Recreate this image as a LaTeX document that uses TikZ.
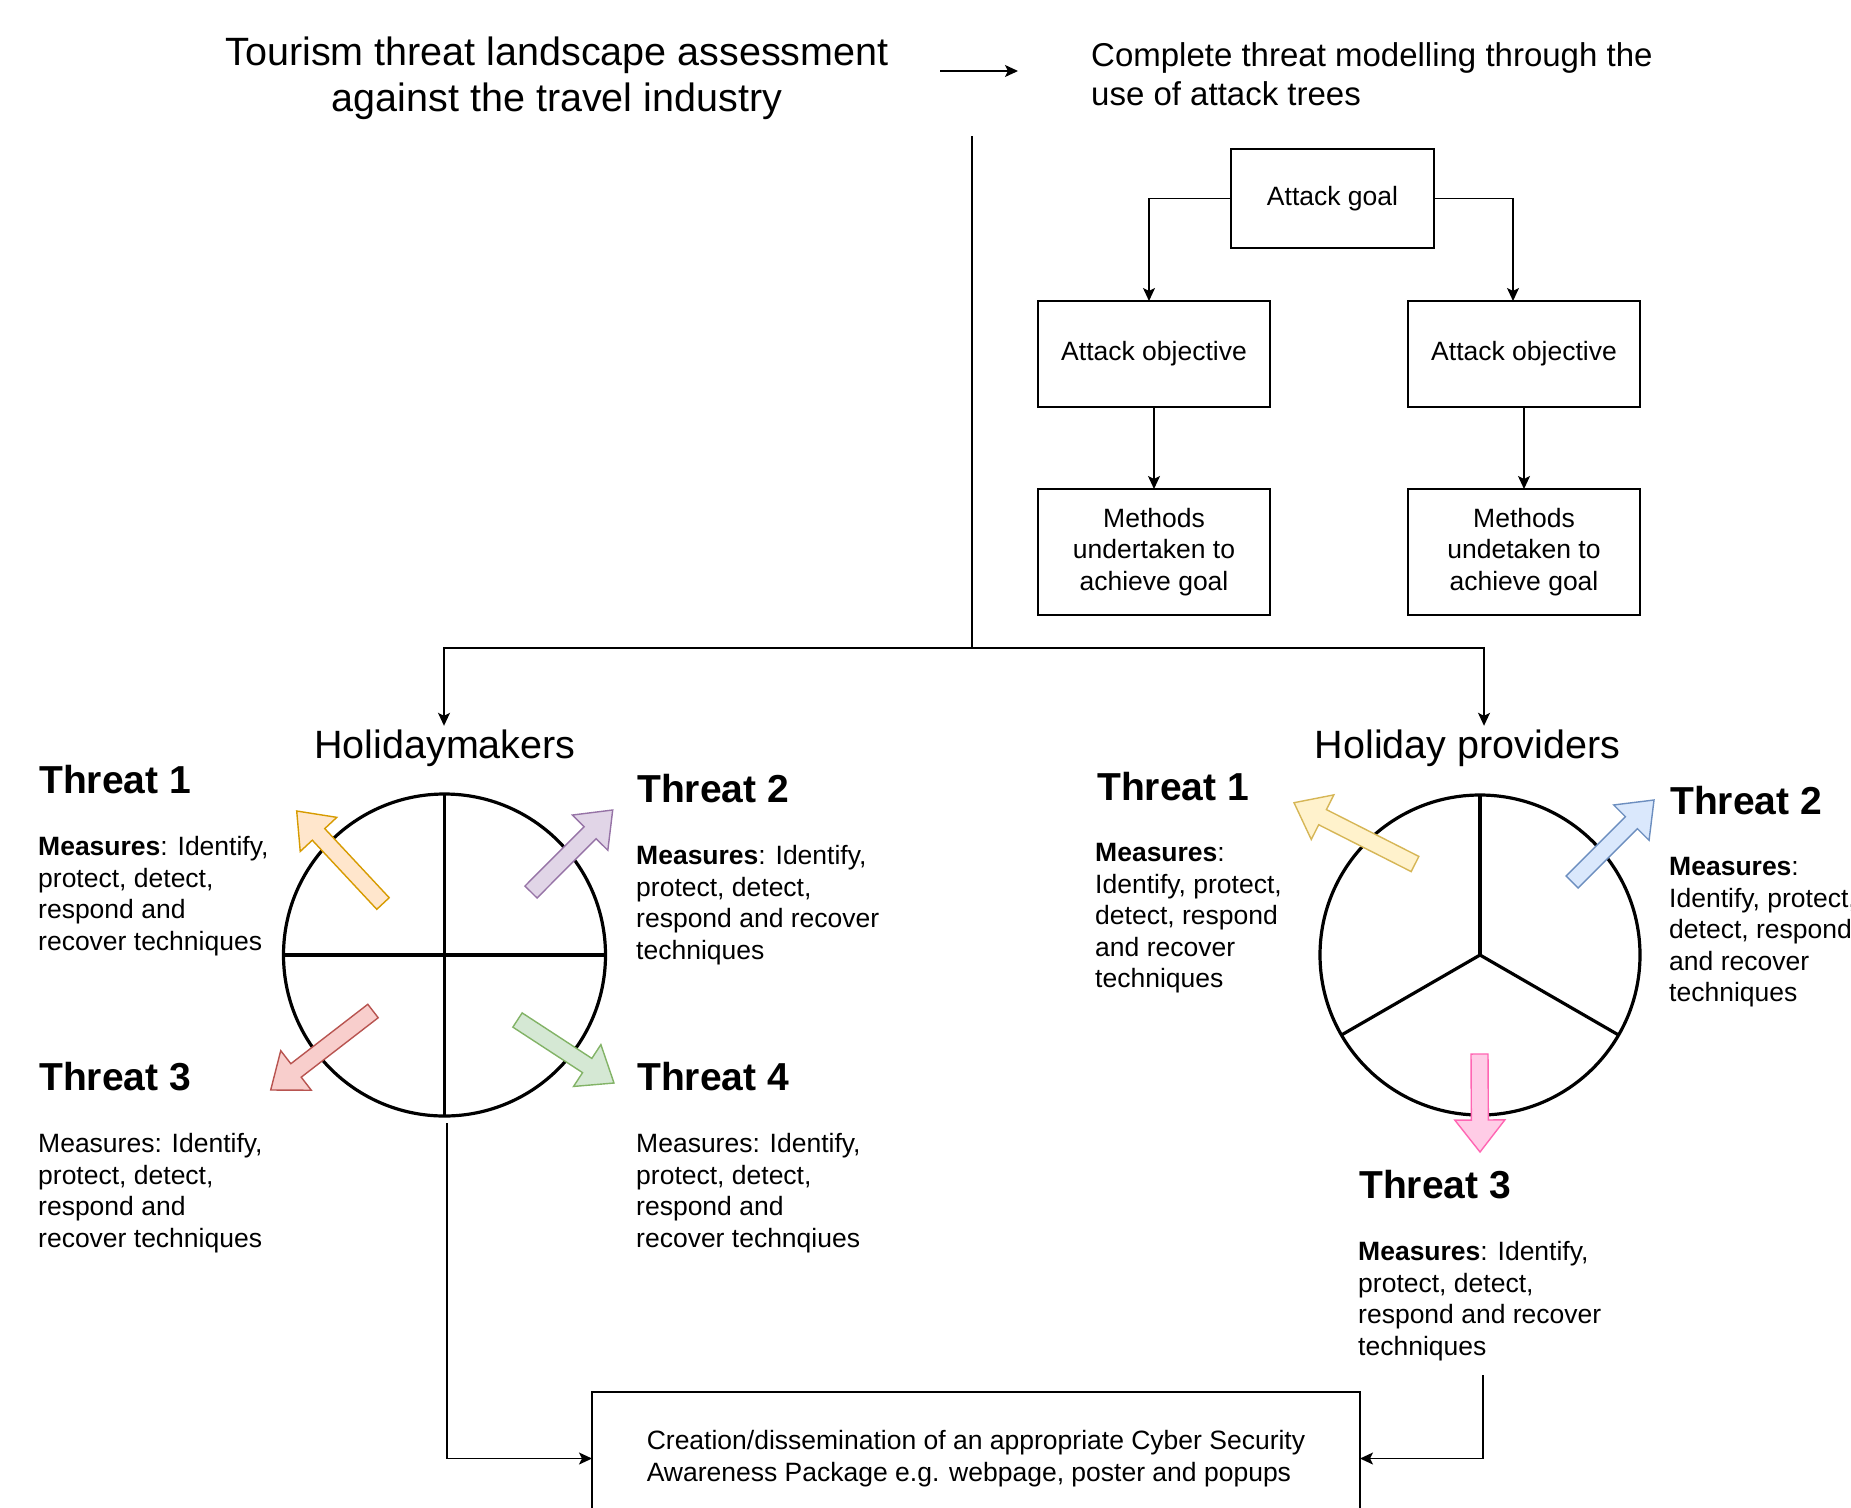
\documentclass[tikz,border=0pt]{standalone}
\usepackage{fontspec}
\setmainfont{Liberation Sans}
\usetikzlibrary{calc,arrows.meta}

\definecolor{orfill}{HTML}{FFE6CC}\definecolor{orline}{HTML}{D79B00}
\definecolor{pufill}{HTML}{E1D5E7}\definecolor{puline}{HTML}{9673A6}
\definecolor{refill}{HTML}{F8CECC}\definecolor{reline}{HTML}{B85450}
\definecolor{grfill}{HTML}{D5E8D4}\definecolor{grline}{HTML}{82B366}
\definecolor{yefill}{HTML}{FFF2CC}\definecolor{yeline}{HTML}{D6B656}
\definecolor{blfill}{HTML}{DAE8FC}\definecolor{blline}{HTML}{6C8EBF}
\definecolor{pifill}{HTML}{FFCCE6}\definecolor{piline}{HTML}{FF66B3}

\newcommand\bodyfont{\fontsize{26.5}{31.6}\selectfont}
\newcommand\titlefont{\fontsize{39.5}{46.5}\selectfont}
\newcommand\subfont{\fontsize{33}{39}\selectfont}
\newcommand\headfont{\fontsize{39}{46}\selectfont\bfseries}

\newcommand\threatarrow[3]{%
  \coordinate (tat) at (#2);
  \coordinate (tap) at (#3);
  \coordinate (tah) at ($(tap)!32pt!(tat)$);
  \draw[#1] ($(tat)!8.5pt!90:(tap)$) -- ($(tah)!8.5pt!-90:(tat)$) -- ($(tah)!25pt!-90:(tat)$) -- (tap) -- ($(tah)!25pt!90:(tat)$) -- ($(tah)!8.5pt!90:(tat)$) -- ($(tat)!8.5pt!-90:(tap)$) -- cycle;
}

\begin{document}
\begin{tikzpicture}[x=1pt,y=-1pt,
  box/.style={draw=black, line width=1.6pt, rectangle, inner sep=0pt, outer sep=0pt, align=center, font=\bodyfont},
  conn/.style={draw=black, line width=1.5pt, -{Stealth[length=13pt,width=12pt,inset=3pt]}},
  plain/.style={draw=black, line width=1.5pt},
  txt/.style={inner sep=0pt, align=left, anchor=north west, font=\bodyfont},
  head/.style={inner sep=0pt, align=left, anchor=north west, font=\headfont},
  wheel/.style={circle, draw=black, line width=3.2pt, inner sep=0pt, outer sep=0pt},
  spoke/.style={draw=black, line width=3.2pt},
  tarrow/.style={line width=1.4pt, line join=miter}
]
\useasboundingbox[fill=white] (0,0) rectangle (1851,1507);

% titles
\node[inner sep=0pt, align=center, anchor=north, font=\titlefont] (title) at (557,36.3)
  {Tourism threat landscape assessment\\against the travel industry};
\node[inner sep=0pt, align=left, anchor=north west, font=\subfont] (model) at (1091,42)
  {Complete threat modelling through the\\use of attack trees};
\coordinate (arrA) at (940,71);
\coordinate (arrB) at (1018,71);
\draw[conn] (arrA) -- (arrB);

% attack tree
\node[box, minimum width=203pt, minimum height=99pt] (goal) at (1332.5,198.5) {Attack goal};
\node[box, minimum width=232pt, minimum height=106pt] (objL) at (1154,354) {Attack objective};
\node[box, minimum width=232pt, minimum height=106pt] (objR) at (1524,354) {Attack objective};
\node[box, minimum width=232pt, minimum height=126pt] (methL) at (1154,552) {Methods\\undertaken to\\achieve goal};
\node[box, minimum width=232pt, minimum height=126pt] (methR) at (1524,552) {Methods\\undetaken to\\achieve goal};
\draw[conn] (goal.west) -| ([xshift=-5pt]objL.north);
\draw[conn] (goal.east) -| ([xshift=-11pt]objR.north);
\draw[conn] (objL.south) -- (methL.north);
\draw[conn] (objR.south) -- (methR.north);

% split
\coordinate (vtop) at (972,136);
\coordinate (split) at (972,648);
\draw[plain] (vtop) -- (split);

\node[font=\titlefont, inner sep=0pt, inner ysep=3pt, text height=29pt, text depth=9pt, anchor=base] (hm) at (445,758) {Holidaymakers};
\node[font=\titlefont, inner sep=0pt, inner ysep=3pt, text height=29pt, text depth=9pt, anchor=base] (hp) at (1467.5,758) {Holiday providers};
\draw[conn] (split) -| ([xshift=-1pt]hm.north);
\draw[conn] (split) -| ([xshift=16.5pt]hp.north);

% wheels
\node[wheel, minimum size=322pt] (w1) at (444.5,955) {};
\draw[spoke] (w1.north) -- (w1.south);
\draw[spoke] (w1.west) -- (w1.east);
\node[wheel, minimum size=320pt] (w2) at (1480,955) {};
\draw[spoke] (w2.center) -- (w2.north);
\draw[spoke] (w2.center) -- (w2.210);
\draw[spoke] (w2.center) -- (w2.330);

% block arrows
\threatarrow{tarrow, draw=orline, fill=orfill}{383,903.5}{296.7,811}
\threatarrow{tarrow, draw=puline, fill=pufill}{531,892}{612.7,810}
\threatarrow{tarrow, draw=reline, fill=refill}{373,1011}{270.7,1090}
\threatarrow{tarrow, draw=grline, fill=grfill}{517.5,1020}{614,1083}
\threatarrow{tarrow, draw=yeline, fill=yefill}{1415,864}{1294,802.7}
\threatarrow{tarrow, draw=blline, fill=blfill}{1572,882}{1654,800}
\threatarrow{tarrow, draw=piline, fill=pifill}{1479.5,1054}{1480,1152}

% Holidaymakers threats
\node[head] (lt1) at (39,765.5) {Threat 1};
\node[txt] (lm1) at (38,836) {\textbf{Measures}: Identify,\\protect, detect,\\respond and\\recover techniques};
\node[head] (lt2) at (637,774) {Threat 2};
\node[txt] (lm2) at (636,845) {\textbf{Measures}: Identify,\\protect, detect,\\respond and recover\\techniques};
\node[head] (lt3) at (39,1062) {Threat 3};
\node[txt] (lm3) at (38,1133) {Measures: Identify,\\protect, detect,\\respond and\\recover techniques};
\node[head] (lt4) at (637,1062) {Threat 4};
\node[txt] (lm4) at (636,1133) {Measures: Identify,\\protect, detect,\\respond and\\recover technqiues};

% Holiday providers threats
\node[head] (rt1) at (1097,772) {Threat 1};
\node[txt] (rm1) at (1095,843) {\textbf{Measures}:\\Identify, protect,\\detect, respond\\and recover\\techniques};
\node[head] (rt2) at (1670,786.5) {Threat 2};
\node[txt] (rm2) at (1669,857) {\textbf{Measures}:\\Identify, protect,\\detect, respond\\and recover\\techniques};
\node[head] (rt3) at (1359,1170.5) {Threat 3};
\node[txt] (rm3) at (1358,1241) {\textbf{Measures}: Identify,\\protect, detect,\\respond and recover\\techniques};

% awareness package
\node[box, minimum width=768pt, minimum height=133pt, align=left] (pkg) at (976,1458.5)
  {Creation/dissemination of an appropriate Cyber Security\\Awareness Package e.g. webpage, poster and popups};
\coordinate (hmout) at (447,1123);
\coordinate (hpout) at (1483,1375);
\draw[conn] (hmout) |- (pkg.west);
\draw[conn] (hpout) |- (pkg.east);
\end{tikzpicture}
\end{document}
